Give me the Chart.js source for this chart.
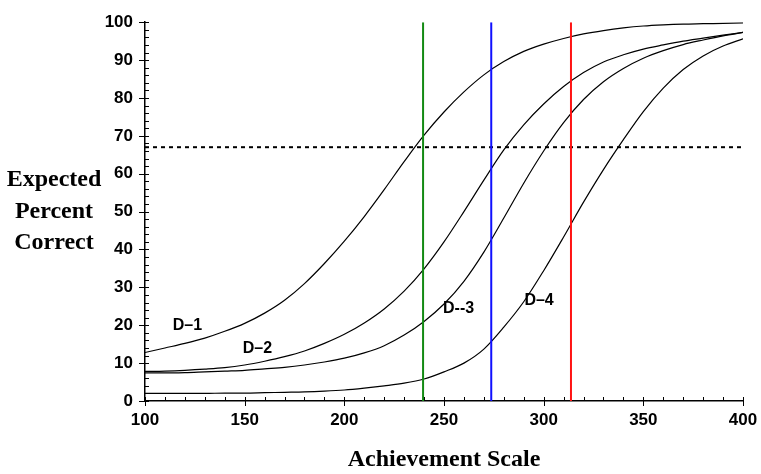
<!DOCTYPE html>
<html lang="en">
<head>
    <meta charset="UTF-8">
    <title>Expected Percent Correct</title>
    <script src="https://cdn.jsdelivr.net/npm/chart.js@4.4.1/dist/chart.umd.min.js"></script>
    <style>
        body { margin: 0; background: #fff; }
    </style>
</head>
<body>

<canvas id="myChart" width="761" height="474"></canvas>

<script>

    // achievement scale points where the curves were read
    var scalePoints = [100, 110, 120, 130, 140, 150, 160, 170, 180, 190,
                       200, 210, 220, 230, 240, 250, 260, 270, 280, 290,
                       300, 310, 320, 330, 340, 350, 360, 370, 380, 390, 400];

    // expected percent correct for each item
    var d1Values = [12.8, 14.0, 15.2, 16.6, 18.4, 20.5, 23.2, 26.6, 31.0, 36.3,
                    42.2, 48.7, 55.8, 63.2, 70.2, 76.3, 81.6, 86.1, 89.6, 92.3,
                    94.2, 95.7, 96.9, 97.8, 98.5, 99.0, 99.3, 99.5, 99.6, 99.7, 99.8];
    var d2Values = [7.8, 7.9, 8.1, 8.4, 8.8, 9.5, 10.5, 11.7, 13.2, 15.2,
                    17.6, 20.6, 24.3, 29.0, 34.9, 42.0, 50.0, 58.3, 66.3, 72.9,
                    78.4, 83.0, 86.7, 89.5, 91.4, 92.9, 94.0, 95.0, 95.8, 96.6, 97.3];
    var d3Values = [7.4, 7.4, 7.5, 7.7, 7.9, 8.1, 8.5, 8.9, 9.5, 10.3,
                    11.3, 12.7, 14.6, 17.4, 21.0, 25.6, 31.6, 39.3, 48.3, 57.5,
                    66.0, 73.5, 79.6, 84.3, 87.8, 90.5, 92.5, 94.1, 95.3, 96.4, 97.3];
    var d4Values = [2.0, 2.0, 2.0, 2.0, 2.1, 2.1, 2.2, 2.3, 2.4, 2.6,
                    2.9, 3.4, 4.0, 4.7, 5.8, 7.7, 10.0, 13.7, 19.5, 26.2,
                    34.4, 43.3, 52.5, 61.1, 69.0, 76.4, 82.6, 87.5, 91.1, 93.7, 95.6];

    // cut scores (vertical lines) and the 67% criterion (dotted line)
    var cutScores = [239.5, 273.7, 313.7];
    var criterion = 67;

    // item labels and where they sit (scale value, percent)
    var itemNames = ["D\u20131", "D\u20132", "D--3", "D\u20134"];
    var itemLabelX = [121.3, 156.4, 257.3, 297.7];
    var itemLabelY = [20.0, 13.9, 24.5, 26.5];

    var yTitleLines = ["Expected", "Percent", "Correct"];

    function toPoints(xs, ys) {
        var pts = [];
        for (var i = 0; i < xs.length; i++) {
            pts.push({x: xs[i], y: ys[i]});
        }
        return pts;
    }

    var curveStyle = {
        borderColor: '#000',
        borderWidth: 1.2,
        pointRadius: 0,
        fill: false,
        cubicInterpolationMode: 'monotone'
    };

    var cutColors = ['#138a13', '#1010ff', '#ff1414'];

    var datasets = [];
    for (var c = 0; c < cutScores.length; c++) {
        datasets.push({
            data: [{x: cutScores[c], y: 0}, {x: cutScores[c], y: 100}],
            borderColor: cutColors[c],
            borderWidth: 2,
            pointRadius: 0
        });
    }
    datasets.push({
        data: [{x: 100, y: criterion}, {x: 399, y: criterion}],
        borderColor: '#000',
        borderWidth: 2,
        borderDash: [4, 4],
        pointRadius: 0
    });
    [d1Values, d2Values, d3Values, d4Values].forEach(function (vals) {
        datasets.push(Object.assign({data: toPoints(scalePoints, vals)}, curveStyle));
    });

    // small tick marks, the horizontal y title and the item labels
    var extras = {
        id: 'extras',
        afterDraw: function (chart) {
            var ctx = chart.ctx;
            var xs = chart.scales.x;
            var ys = chart.scales.y;
            ctx.save();
            ctx.strokeStyle = '#000';
            ctx.lineWidth = 1;
            for (var v = 100; v <= 400; v += 10) {
                var px = Math.round(xs.getPixelForValue(v)) + 0.5;
                var major = v % 50 === 0;
                ctx.beginPath();
                ctx.moveTo(px, ys.bottom - 4);
                ctx.lineTo(px, ys.bottom + (major ? 5 : 0));
                ctx.stroke();
            }
            for (var w = 0; w <= 100; w += 2) {
                var py = Math.round(ys.getPixelForValue(w)) + 0.5;
                var maj = w % 10 === 0;
                ctx.beginPath();
                ctx.moveTo(xs.left - (maj ? 6 : 0), py);
                ctx.lineTo(xs.left + 4, py);
                ctx.stroke();
            }

            ctx.fillStyle = '#000';
            ctx.textAlign = 'center';
            ctx.textBaseline = 'middle';
            ctx.font = 'bold 16px "Liberation Sans", Arial, sans-serif';
            for (var i = 0; i < itemNames.length; i++) {
                ctx.fillText(itemNames[i], xs.getPixelForValue(itemLabelX[i]), ys.getPixelForValue(itemLabelY[i]));
            }

            ctx.font = 'bold 24px "Liberation Serif", "Times New Roman", serif';
            var mid = (chart.chartArea.top + chart.chartArea.bottom) / 2;
            var offsets = [-32, 0, 31];
            for (var k = 0; k < yTitleLines.length; k++) {
                ctx.fillText(yTitleLines[k], 54, mid + offsets[k]);
            }
            ctx.restore();
        }
    };

    var tickFont = {family: '"Liberation Sans", Arial, sans-serif', size: 17, weight: 'bold'};

    var config = {
        type: 'line',
        data: {datasets: datasets},
        options: {
            responsive: false,
            animation: false,
            devicePixelRatio: 1,
            layout: {padding: {left: 0, top: 15, right: 18, bottom: 0}},
            plugins: {legend: {display: false}, tooltip: {enabled: false}},
            scales: {
                x: {
                    type: 'linear',
                    min: 100,
                    max: 400,
                    ticks: {stepSize: 50, font: tickFont, color: '#000', padding: 9},
                    grid: {display: false, drawTicks: false},
                    border: {color: '#000', width: 1.5},
                    title: {
                        display: true,
                        text: 'Achievement Scale',
                        color: '#000',
                        font: {family: '"Liberation Serif", "Times New Roman", serif', size: 24, weight: 'bold'},
                        padding: {top: 0, bottom: 0}
                    },
                    afterFit: function (scale) {
                        scale.height = 73;
                        scale.paddingLeft = 0;
                        scale.paddingRight = 0;
                    }
                },
                y: {
                    min: 0,
                    max: 100,
                    ticks: {stepSize: 10, font: tickFont, color: '#000', padding: 12},
                    grid: {display: false, drawTicks: false},
                    border: {color: '#000', width: 1.5},
                    afterFit: function (scale) { scale.width = 145; }
                }
            }
        },
        plugins: [extras]
    };

    var ctx = document.getElementById("myChart").getContext("2d");
    new Chart(ctx, config);

</script>

</body>
</html>
